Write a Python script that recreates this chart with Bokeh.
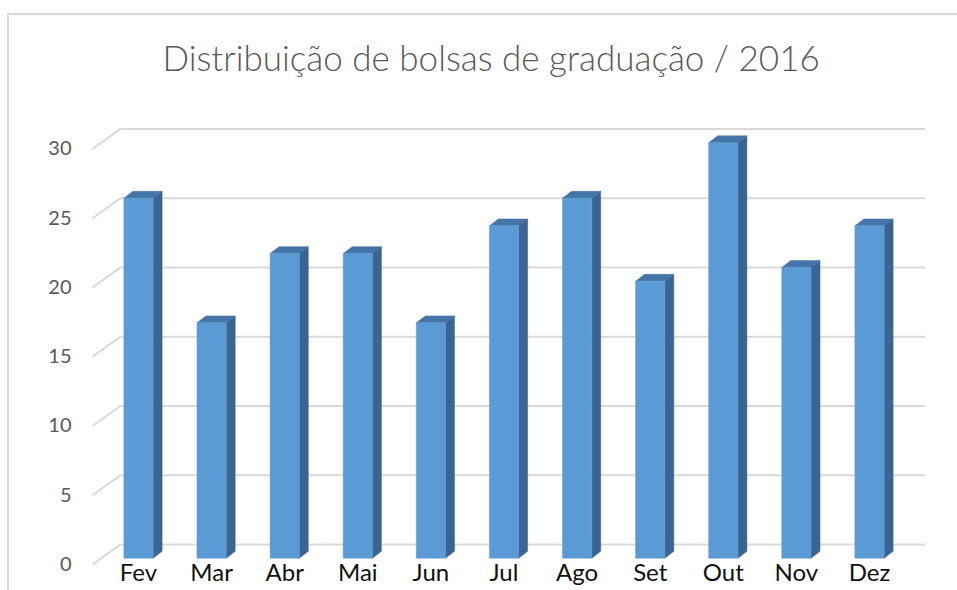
from bokeh.plotting import figure
from bokeh.models import Range1d, LinearAxis, FixedTicker
from bokeh.embed import file_html
from bokeh.resources import INLINE

# ---- data ----
months = ["Fev", "Mar", "Abr", "Mai", "Jun", "Jul", "Ago", "Set", "Out", "Nov", "Dez"]
values = [26, 17, 22, 22, 17, 24, 26, 20, 30, 21, 24]
y_ticks = [0, 5, 10, 15, 20, 25, 30]
title_text = "Distribuição de bolsas de graduação / 2016"

# ---- 3D look parameters (data units) ----
BAR_W = 0.40
DX = 0.123
DY = 0.5
BACK_DY = 1.0
FRONT_DY = -0.45
BACK_X0 = -0.246
FRONT_X0 = -0.629
X_START, X_END = -0.766, 10.766
Y_START, Y_END = -2.33, 32.33

FRONT = "#5b9bd5"
SIDE = "#3a6592"
TOP = "#4474a8"
GRID = "#d9d9d9"

xs = list(range(len(months)))

p = figure(width=957, height=590, output_backend="svg", toolbar_location=None,
           x_range=Range1d(X_START, X_END), y_range=Range1d(Y_START, Y_END),
           x_axis_type=None, y_axis_type=None,
           min_border_left=82, min_border_right=32, min_border_top=110, min_border_bottom=0)
p.outline_line_color = None
p.background_fill_color = "white"
p.border_fill_color = None
p.styles = {
    "background": "linear-gradient(#d9d9d9,#d9d9d9) 7px 13px / 100% 2px no-repeat, "
                  "linear-gradient(#d9d9d9,#d9d9d9) 7px 13px / 2px 100% no-repeat, white"
}

p.title.text = title_text
p.title.align = "left"
p.title.offset = 80
p.title.text_font = "Lato Light, Lato"
p.title.text_font_style = "normal"
p.title.text_font_size = "35px"
p.title.text_color = "#595959"
p.title.standoff = 66

# y axis (shifted range so labels sit at Excel's front-left positions)
p.extra_y_ranges = {"axis": Range1d(Y_START + 0.4, Y_END + 0.4)}
yaxis = LinearAxis(y_range_name="axis", ticker=FixedTicker(ticks=y_ticks))
yaxis.axis_line_color = None
yaxis.major_tick_line_color = None
yaxis.minor_tick_line_color = None
yaxis.major_label_standoff = 5
yaxis.major_label_text_font = "Lato"
yaxis.major_label_text_font_size = "20px"
yaxis.major_label_text_color = "#595959"
p.add_layout(yaxis, "left")

# x axis with month labels
xaxis = LinearAxis(ticker=FixedTicker(ticks=xs),
                   major_label_overrides={i: m for i, m in enumerate(months)})
xaxis.fixed_location = 0
xaxis.axis_line_color = None
xaxis.major_tick_line_color = None
xaxis.minor_tick_line_color = None
xaxis.major_label_standoff = -7
xaxis.major_label_text_font = "Lato"
xaxis.major_label_text_font_size = "24px"
xaxis.major_label_text_color = "#111111"
p.add_layout(xaxis, "below")

# back-wall gridlines and the diagonal stubs
p.segment(x0=[BACK_X0] * len(y_ticks), y0=[v + BACK_DY for v in y_ticks],
          x1=[X_END] * len(y_ticks), y1=[v + BACK_DY for v in y_ticks],
          line_color=GRID, line_width=2)
p.segment(x0=[FRONT_X0] * len(y_ticks), y0=[v + FRONT_DY for v in y_ticks],
          x1=[BACK_X0] * len(y_ticks), y1=[v + BACK_DY for v in y_ticks],
          line_color=GRID, line_width=2)

# bars: side, top, front faces
side_xs = [[x + BAR_W / 2, x + BAR_W / 2 + DX, x + BAR_W / 2 + DX, x + BAR_W / 2] for x in xs]
side_ys = [[0, DY, v + DY, v] for v in values]
p.patches(side_xs, side_ys, fill_color=SIDE, line_color=SIDE, line_width=0.5)
top_xs = [[x - BAR_W / 2, x - BAR_W / 2 + DX, x + BAR_W / 2 + DX, x + BAR_W / 2] for x in xs]
top_ys = [[v, v + DY, v + DY, v] for v in values]
p.patches(top_xs, top_ys, fill_color=TOP, line_color=TOP, line_width=0.5)
p.vbar(x=xs, top=values, bottom=0, width=BAR_W, fill_color=FRONT, line_color=FRONT, line_width=0.5)

open("out.html", "w").write(file_html(p, INLINE))
